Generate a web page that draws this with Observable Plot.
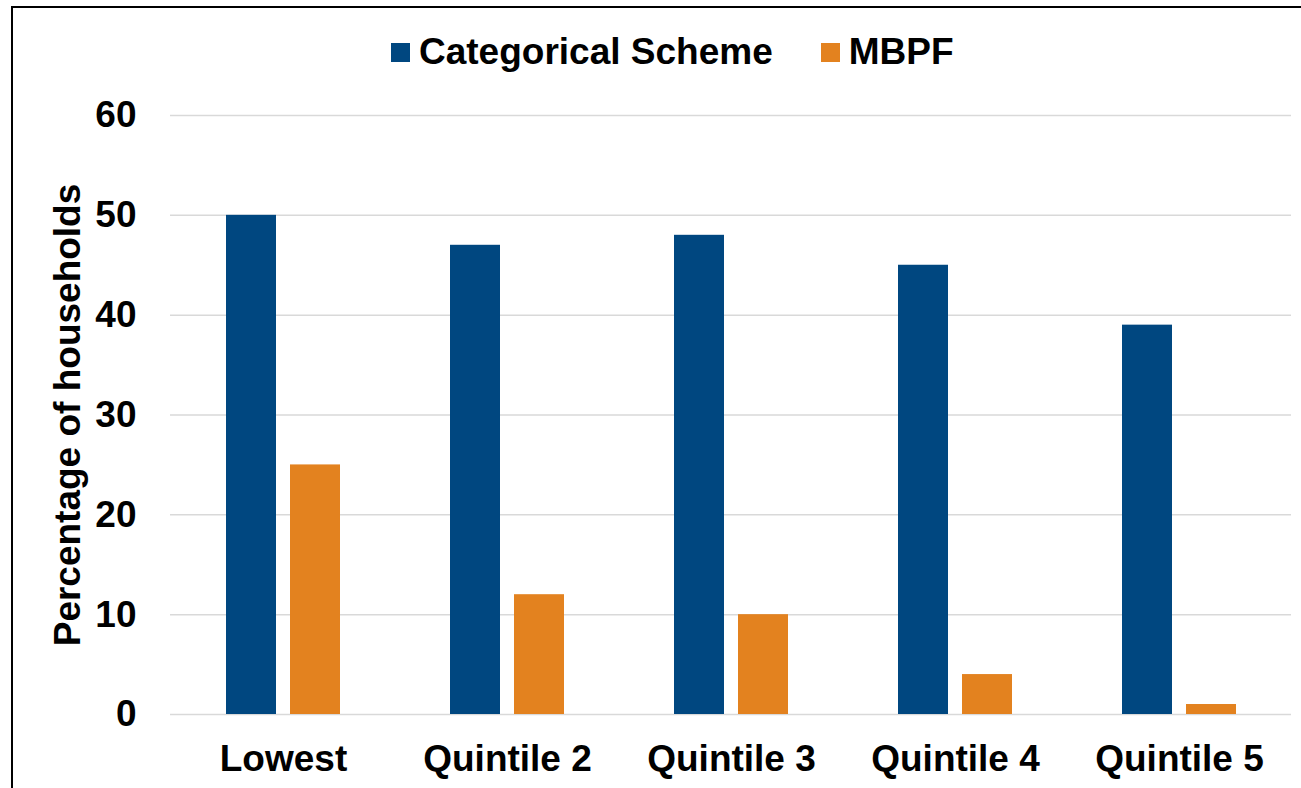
<!DOCTYPE html>
<html>
<head>
<meta charset="utf-8">
<script src="https://cdn.jsdelivr.net/npm/d3@7"></script>
<script src="https://cdn.jsdelivr.net/npm/@observablehq/plot@0.6"></script>
<style>
  body { margin: 0; background: #fff; font-family: "Liberation Sans", Arial, sans-serif; }
  #wrap { position: relative; width: 1301px; height: 788px; overflow: hidden; background: #fff; }
  #frame { position: absolute; left: 11px; top: 6px; right: -10px; bottom: -10px;
           border-top: 2px solid #000; border-left: 2px solid #000; pointer-events: none; }
  #legend { position: absolute; left: 391px; top: 32px; height: 40px; display: flex; align-items: center;
            font-weight: bold; font-size: 37px; color: #000; white-space: nowrap; }
  .item { display: flex; align-items: center; margin-right: 48px; }
  .sw { width: 19px; height: 19px; display: inline-block; margin-right: 9px; }
  #legendSpace { height: 100px; }
  #chart svg { display: block; }
</style>
</head>
<body>
<div id="wrap">
  <div id="legendSpace"></div>
  <div id="chart"></div>
  <div id="legend"></div>
  <div id="frame"></div>
</div>
<script>
const categories = ["Lowest", "Quintile 2", "Quintile 3", "Quintile 4", "Quintile 5"];
const categoricalScheme = [50, 47, 48, 45, 39];
const mbpf = [25, 12, 10, 4, 1];
const seriesNames = ["Categorical Scheme", "MBPF"];
const seriesColors = ["#004780", "#E3821F"];
const yTicks = [0, 10, 20, 30, 40, 50, 60];

const rows = categories.map((c, i) => ({cat: c, a: categoricalScheme[i], b: mbpf[i]}));

// legend
const legend = document.getElementById("legend");
seriesNames.forEach((name, i) => {
  const item = document.createElement("div");
  item.className = "item";
  const sw = document.createElement("span");
  sw.className = "sw";
  sw.style.background = seriesColors[i];
  item.appendChild(sw);
  item.appendChild(document.createTextNode(name));
  legend.appendChild(item);
});

const chart = Plot.plot({
  width: 1301,
  height: 688,
  marginTop: 15,
  marginBottom: 74,
  marginLeft: 170,
  marginRight: 10,
  style: {
    fontFamily: "Liberation Sans, Arial, sans-serif",
    fontSize: "37px",
    fontWeight: "bold",
    color: "#000",
    background: "transparent",
    overflow: "visible"
  },
  x: {domain: categories, paddingInner: 0.4915, paddingOuter: 0.2457, label: null},
  y: {domain: [0, 60], label: "Percentage of households"},
  marks: [
    Plot.ruleY(yTicks, {stroke: "#d9d9d9", strokeWidth: 1.5}),
    Plot.barY(rows, {x: "cat", y: "a", fill: seriesColors[0], insetRight: 64}),
    Plot.barY(rows, {x: "cat", y: "b", fill: seriesColors[1], insetLeft: 64}),
    Plot.axisY({ticks: yTicks, tickSize: 0, tickPadding: 34, label: "Percentage of households",
                labelAnchor: "center", labelArrow: "none", labelOffset: 117}),
    Plot.axisX({tickSize: 0, tickPadding: 30, label: null})
  ]
});
document.getElementById("chart").appendChild(chart);
</script>
</body>
</html>
